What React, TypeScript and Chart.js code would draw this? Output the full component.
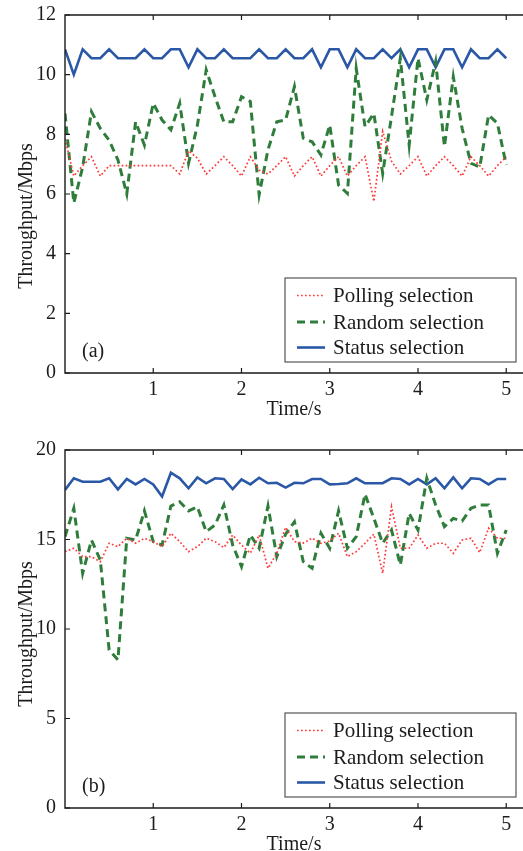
import React, { useEffect, useRef } from "react";
import { Chart, registerables } from "chart.js";

Chart.register(...registerables);

// ---------- data ----------
const TIME = [
  0, 0.1, 0.2, 0.3, 0.4, 0.5, 0.6, 0.7, 0.8, 0.9,
  1.0, 1.1, 1.2, 1.3, 1.4, 1.5, 1.6, 1.7, 1.8, 1.9,
  2.0, 2.1, 2.2, 2.3, 2.4, 2.5, 2.6, 2.7, 2.8, 2.9,
  3.0, 3.1, 3.2, 3.3, 3.4, 3.5, 3.6, 3.7, 3.8, 3.9,
  4.0, 4.1, 4.2, 4.3, 4.4, 4.5, 4.6, 4.7, 4.8, 4.9,
  5.0,
];

const X_TICKS = [1, 2, 3, 4, 5];
const Y_TICKS_A = [0, 2, 4, 6, 8, 10, 12];
const Y_TICKS_B = [0, 5, 10, 15, 20];

const SERIES_LABELS = ["Polling selection", "Random selection", "Status selection"];
const X_TITLE = "Time/s";
const Y_TITLE = "Throughput/Mbps";

// panel (a)
const POLLING_A = [
  7.85, 6.6, 6.95, 7.25, 6.6, 6.95, 6.95, 6.95, 6.95, 6.95,
  6.95, 6.95, 6.95, 6.67, 7.45, 7.2, 6.67, 6.95, 7.25, 6.95,
  6.6, 7.25, 6.8, 6.67, 6.95, 7.25, 6.6, 6.95, 7.25, 6.6,
  6.95, 7.25, 6.6, 6.95, 7.25, 5.75, 8.1, 7.1, 6.67, 6.95,
  7.25, 6.6, 6.95, 7.25, 6.95, 6.6, 7.25, 6.95, 6.6, 6.95,
  7.25,
];
const RANDOM_A = [
  8.7, 5.7, 6.9, 8.76, 8.2, 7.8, 7.14, 6.0, 8.42, 7.64,
  9.04, 8.48, 8.15, 9.04, 7.03, 8.3, 10.16, 9.26, 8.42, 8.42,
  9.26, 9.1, 5.97, 7.48, 8.42, 8.48, 9.6, 7.87, 7.75, 7.31,
  8.31, 6.3, 6.02, 10.21, 8.26, 8.7, 6.69, 8.6, 10.55, 7.64,
  10.55, 9.15, 10.44, 7.59, 9.93, 8.2, 7.03, 6.9, 8.65, 8.37,
  6.97,
];
const STATUS_A = [
  10.85, 10.0, 10.85, 10.55, 10.55, 10.85, 10.55, 10.55, 10.55, 10.85,
  10.55, 10.55, 10.85, 10.85, 10.25, 10.85, 10.55, 10.55, 10.85, 10.55,
  10.55, 10.55, 10.85, 10.55, 10.55, 10.85, 10.55, 10.55, 10.85, 10.25,
  10.85, 10.85, 10.25, 10.85, 10.55, 10.55, 10.85, 10.55, 10.85, 10.25,
  10.85, 10.85, 10.25, 10.85, 10.85, 10.25, 10.85, 10.55, 10.55, 10.85,
  10.55,
];

// panel (b)
const POLLING_B = [
  14.32, 14.51, 14.04, 14.04, 13.76, 14.79, 14.6, 15.07, 14.79, 15.07,
  14.88, 14.6, 15.35, 14.88, 14.32, 14.6, 15.07, 14.88, 14.55, 15.25,
  14.69, 14.23, 15.25, 13.39, 14.23, 15.68, 14.88, 14.8, 15.07, 14.79,
  14.92, 15.35, 14.04, 14.32, 14.79, 15.3, 13.11, 16.83, 14.51, 14.51,
  15.25, 14.51, 14.79, 14.79, 14.23, 14.97, 15.07, 14.27, 15.63, 15.07,
  15.07,
];
const RANDOM_B = [
  15.16, 16.74, 13.11, 14.97, 13.85, 8.83, 8.27, 15.07, 14.97, 16.6,
  14.88, 14.69, 16.87, 17.11, 16.6, 16.83, 15.44, 15.81, 16.93, 14.69,
  13.48, 15.25, 14.51, 16.87, 14.04, 15.3, 15.99, 13.76, 13.39, 15.35,
  14.51, 16.6, 14.51, 15.16, 17.54, 16.18, 14.79, 15.53, 13.58, 16.46,
  15.53, 18.42, 16.93, 15.72, 16.18, 16.03, 16.74, 16.93, 16.93, 14.23,
  15.53,
];
const STATUS_B = [
  17.77, 18.42, 18.23, 18.23, 18.23, 18.42, 17.8, 18.38, 18.08, 18.38,
  18.08, 17.4, 18.73, 18.42, 17.86, 18.47, 18.14, 18.42, 18.38, 17.82,
  18.36, 18.08, 18.45, 18.14, 18.17, 17.9, 18.17, 18.14, 18.38, 18.38,
  18.08, 18.1, 18.14, 18.42, 18.14, 18.14, 18.15, 18.42, 18.38, 18.08,
  18.38, 18.08, 18.42, 17.86, 18.47, 17.86, 18.42, 18.38, 18.08, 18.38,
  18.38,
];

// ---------- styles ----------
const FONT_FAMILY = "'Liberation Serif', 'Times New Roman', serif";
const TEXT_COLOR = "#1c1c1c";
const RED = "#ff3a3a";
const GREEN = "#2f7d3b";
const BLUE = "#2a58a6";
const X_MAX = 5.19;

type PanelOpts = {
  polling: number[];
  random: number[];
  status: number[];
  yTicks: number[];
  yMax: number;
  panelLabel: string;
  padTop: number;
  yTitleShift: number;
};

const framePlugin = {
  id: "frameDecor",
  afterDraw(chart: any, _args: any, opts: any) {
    const { ctx, chartArea, scales } = chart;
    const { left, right, top, bottom } = chartArea;
    const xs = scales.x;
    const ys = scales.y;
    ctx.save();
    // axes frame (left, bottom, top)
    ctx.strokeStyle = "#1a1a1a";
    ctx.lineWidth = 1.4;
    ctx.setLineDash([]);
    ctx.beginPath();
    ctx.moveTo(right + 2, top);
    ctx.lineTo(left, top);
    ctx.lineTo(left, bottom);
    ctx.lineTo(right + 2, bottom);
    ctx.stroke();
    // inward tick marks
    ctx.lineWidth = 1.2;
    ctx.beginPath();
    for (const v of opts.xTicks) {
      const px = xs.getPixelForValue(v);
      ctx.moveTo(px, bottom);
      ctx.lineTo(px, bottom - 5);
      ctx.moveTo(px, top);
      ctx.lineTo(px, top + 5);
    }
    for (const v of opts.yTicks) {
      const py = ys.getPixelForValue(v);
      ctx.moveTo(left, py);
      ctx.lineTo(left + 5, py);
    }
    ctx.stroke();

    // y-axis title
    ctx.save();
    ctx.fillStyle = TEXT_COLOR;
    ctx.font = `20px ${FONT_FAMILY}`;
    ctx.textAlign = "center";
    ctx.textBaseline = "middle";
    ctx.translate(27, (top + bottom) / 2 + opts.yTitleShift);
    ctx.rotate(-Math.PI / 2);
    ctx.fillText(opts.yTitle, 0, 0);
    ctx.restore();

    // legend box
    const boxRight = right - 7;
    const boxLeft = boxRight - 231;
    const boxBottom = bottom - 11;
    const boxTop = boxBottom - 84;
    ctx.fillStyle = "#ffffff";
    ctx.fillRect(boxLeft, boxTop, boxRight - boxLeft, boxBottom - boxTop);
    ctx.strokeStyle = "#555555";
    ctx.lineWidth = 1.2;
    ctx.strokeRect(boxLeft, boxTop, boxRight - boxLeft, boxBottom - boxTop);
    const rows = [17.5, 44, 69.5];
    chart.data.datasets.forEach((ds: any, i: number) => {
      const yy = boxTop + rows[i];
      ctx.save();
      ctx.strokeStyle = ds.borderColor;
      ctx.lineWidth = ds.borderWidth;
      ctx.setLineDash(ds.borderDash || []);
      ctx.beginPath();
      ctx.moveTo(boxLeft + 12, yy);
      ctx.lineTo(boxLeft + 40, yy);
      ctx.stroke();
      ctx.restore();
      ctx.fillStyle = TEXT_COLOR;
      ctx.font = `21px ${FONT_FAMILY}`;
      ctx.textAlign = "left";
      ctx.textBaseline = "middle";
      ctx.fillText(ds.label, boxLeft + 48, yy + 1);
    });

    // panel label
    ctx.fillStyle = TEXT_COLOR;
    ctx.font = `20px ${FONT_FAMILY}`;
    ctx.textAlign = "left";
    ctx.textBaseline = "middle";
    ctx.fillText(opts.panelLabel, left + 17, bottom - 21);
    ctx.restore();
  },
};

function makeConfig(p: PanelOpts): any {
  const toPts = (arr: number[]) => TIME.map((t, i) => ({ x: t, y: arr[i] }));
  const font = { family: FONT_FAMILY, size: 20 };
  return {
    type: "line",
    data: {
      datasets: [
        {
          label: SERIES_LABELS[0],
          data: toPts(p.polling),
          borderColor: RED,
          borderWidth: 1.7,
          borderDash: [1.7, 2.3],
          pointRadius: 0,
          fill: false,
          tension: 0,
        },
        {
          label: SERIES_LABELS[1],
          data: toPts(p.random),
          borderColor: GREEN,
          borderWidth: 3,
          borderDash: [8, 5],
          pointRadius: 0,
          fill: false,
          tension: 0,
        },
        {
          label: SERIES_LABELS[2],
          data: toPts(p.status),
          borderColor: BLUE,
          borderWidth: 2.6,
          pointRadius: 0,
          fill: false,
          tension: 0,
        },
      ],
    },
    options: {
      animation: false,
      responsive: false,
      maintainAspectRatio: false,
      events: [],
      layout: { padding: { top: p.padTop, right: 0, bottom: 0, left: 0 } },
      plugins: {
        legend: { display: false },
        tooltip: { enabled: false },
        frameDecor: {
          xTicks: X_TICKS,
          yTicks: p.yTicks,
          panelLabel: p.panelLabel,
          yTitle: Y_TITLE,
          yTitleShift: p.yTitleShift,
        },
      },
      scales: {
        x: {
          type: "linear",
          min: 0,
          max: X_MAX,
          afterBuildTicks: (s: any) => {
            s.ticks = X_TICKS.map((v) => ({ value: v }));
          },
          afterFit: (s: any) => {
            s.height = 49;
            s.paddingLeft = 0;
            s.paddingRight = 0;
          },
          ticks: {
            font,
            color: TEXT_COLOR,
            padding: 5,
            maxRotation: 0,
            autoSkip: false,
            includeBounds: false,
          },
          grid: { display: false, drawTicks: false },
          border: { display: false },
          title: {
            display: true,
            text: X_TITLE,
            font,
            color: TEXT_COLOR,
            padding: { top: 0, bottom: 0 },
          },
        },
        y: {
          type: "linear",
          min: 0,
          max: p.yMax,
          afterBuildTicks: (s: any) => {
            s.ticks = p.yTicks.map((v) => ({ value: v }));
          },
          afterFit: (s: any) => {
            s.width = 65;
            s.paddingTop = 0;
            s.paddingBottom = 0;
          },
          ticks: {
            font,
            color: TEXT_COLOR,
            padding: 9,
            autoSkip: false,
            includeBounds: false,
          },
          grid: { display: false, drawTicks: false },
          border: { display: false },
          title: { display: false },
        },
      },
    },
    plugins: [framePlugin],
  };
}

function Panel(props: PanelOpts & { top: number; height: number }) {
  const ref = useRef<HTMLCanvasElement | null>(null);
  useEffect(() => {
    if (!ref.current) return;
    const chart = new Chart(ref.current, makeConfig(props));
    return () => chart.destroy();
  }, []);
  return (
    <canvas
      ref={ref}
      width={523}
      height={props.height}
      style={{
        position: "absolute",
        left: 0,
        top: props.top,
        width: 523,
        height: props.height,
        display: "block",
      }}
    />
  );
}

export default function App() {
  return (
    <div
      style={{
        position: "fixed",
        left: 0,
        top: 0,
        width: 523,
        height: 851,
        overflow: "hidden",
        background: "#ffffff",
      }}
    >
      <Panel
        top={0}
        height={422}
        padTop={15}
        yTitleShift={22}
        polling={POLLING_A}
        random={RANDOM_A}
        status={STATUS_A}
        yTicks={Y_TICKS_A}
        yMax={12}
        panelLabel="(a)"
      />
      <Panel
        top={425}
        height={432}
        padTop={25}
        yTitleShift={5}
        polling={POLLING_B}
        random={RANDOM_B}
        status={STATUS_B}
        yTicks={Y_TICKS_B}
        yMax={20}
        panelLabel="(b)"
      />
    </div>
  );
}
